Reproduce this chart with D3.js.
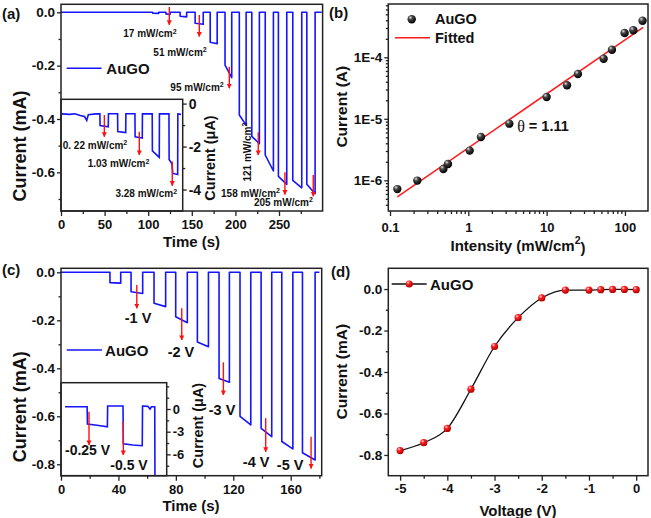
<!DOCTYPE html>
<html><head><meta charset="utf-8">
<script src="https://cdn.jsdelivr.net/npm/d3@7"></script>
<style>
body{margin:0;background:#fff}
svg text{font-family:"Liberation Sans",Arial,sans-serif;font-weight:bold;fill:#111}
</style>
</head><body>
<svg id="c" width="651" height="518"></svg>
<script>
// ---------------- DATA ----------------
// (a) main photocurrent trace, pulses (time s, current mA)
const pulseStartA = [105, 120.3, 136.6, 153.8, 171.1, 188.1, 204.5, 218.8, 234.2, 249.3, 265.8, 281.9];
const pulseEndA   = [112, 125.1, 144.1, 163.1, 179.1, 195.8, 212.3, 227.5, 243.6, 258.9, 276.1, 291.4];
const levelStartA = [-0.003, -0.006, -0.015, -0.041, -0.112, -0.198, -0.385, -0.465, -0.535, -0.615, -0.63, -0.645];
const levelEndA   = [-0.004, -0.008, -0.017, -0.045, -0.118, -0.245, -0.423, -0.493, -0.595, -0.645, -0.658, -0.68];
const endTimeA = 299;
// (a) inset trace (time s, current µA)
const insetTimeA = [0.8,10,16,22,27,29.5,31.3,40,44.6,44.8,54.2,54.4,64.9,65.1,74.2,74.4,84.8,85,93.2,93.4,104.6,104.8,112.7,112.9,123.8,124,127.2,128.2,133.8,134,137.6];
const insetCurA  = [-0.48,-0.5,-0.47,-0.55,-0.6,-0.78,-0.52,-0.48,-0.48,-1.02,-1.08,-0.47,-0.47,-1.3,-1.35,-0.47,-0.47,-1.55,-1.6,-0.48,-0.48,-2.2,-2.5,-0.48,-0.48,-2.6,-2.8,-3.25,-3.3,-0.48,-0.5];
// (a) annotations
const labelTextA = ["17 mW/cm²","51 mW/cm²","95 mW/cm²","158 mW/cm²","205 mW/cm²"];
const labelTimeA = [102, 136.5, 156, 217.3, 255];
const labelCurA  = [-0.079, -0.148, -0.281, -0.676, -0.712];
const rotLabelA = {text:"121 mW/cm²", t:213.3, i:-0.524};
const arrowTimeA = [124.2, 158.6, 193, 226.2, 256.8, 289.3];
const arrowTopA  = [0.02, -0.01, -0.204, -0.45, -0.6, -0.61];
const arrowBotA  = [-0.047, -0.091, -0.285, -0.535, -0.683, -0.69];
const insetLabelTextA = ["0. 22 mW/cm²","1.03 mW/cm²","3.28 mW/cm²"];
const insetLabelTimeA = [39, 66, 97.8];
const insetLabelCurA  = [-1.93, -2.78, -4.18];
const insetArrowTimeA = [49.7, 89.8, 127.6];
const insetArrowTopA  = [-0.53, -1.31, -2.7];
const insetArrowBotA  = [-1.54, -2.39, -3.82];

// (b) intensity dependence
const intensityB = [0.124, 0.223, 0.48, 0.55, 1.04, 1.45, 3.34, 10.0, 18.2, 25.1, 53.4, 68.2, 99, 128, 168];
const currentB   = [7.2e-7, 9.9e-7, 1.53e-6, 1.84e-6, 3.04e-6, 5.07e-6, 8.34e-6, 2.26e-5, 3.51e-5, 5.36e-5, 9.5e-5, 1.33e-4, 2.49e-4, 2.75e-4, 3.94e-4];
const fitIntensityB = [0.124, 171];
const fitCurrentB   = [5.4e-7, 3.08e-4];

// (c) bias-dependent trace (time s, current mA)
const pulseStartC = [34.1, 48.8, 64.8, 79.9, 95.0, 110.1, 124.7, 139.4, 153.8, 168.2];
const pulseEndC   = [41.6, 56.9, 72.9, 88.0, 102.7, 117.3, 132.2, 146.8, 161.5, 177.0];
const levelStartC = [-0.043, -0.081, -0.129, -0.185, -0.29, -0.442, -0.6, -0.65, -0.705, -0.752];
const levelEndC   = [-0.045, -0.088, -0.143, -0.21, -0.31, -0.458, -0.636, -0.685, -0.736, -0.782];
const endTimeC = 180;
const insetTimeC = [2.8,18.2,18.4,25,32.3,32.5,43.2,43.4,50,56.6,56.8,60.5,62,63,65.3,65.5];
const insetCurC  = [0.3,0.3,-2.0,-2.15,-2.35,0.4,0.4,-4.6,-4.75,-4.85,0.4,0.35,0.0,0.3,0.3,-12];
const labelTextC = ["-1 V","-2 V","-3 V","-4 V","-5 V"];
const labelTimeC = [53.7, 83.6, 112.2, 135.9, 159.6];
const labelCurC  = [-0.192, -0.333, -0.574, -0.789, -0.803];
const arrowTimeC = [52.8, 84.1, 113.1, 142.6, 174.2];
const arrowTopC  = [-0.053, -0.15, -0.375, -0.608, -0.685];
const arrowBotC  = [-0.15, -0.282, -0.511, -0.748, -0.817];
const insetLabelTextC = ["-0.25 V","-0.5 V"];
const insetLabelTimeC = [18.5, 47.4];
const insetLabelCurC  = [-5.42, -7.4];
const insetArrowTimeC = [19.5, 43.4];
const insetArrowTopC  = [-0.36, -1.68];
const insetArrowBotC  = [-4.76, -6.08];

// (d) current vs voltage
const voltageD = [-5,-4.5,-4,-3.5,-3,-2.5,-2,-1.5,-1,-0.75,-0.5,-0.25,0];
const currentD = [-0.779,-0.741,-0.672,-0.483,-0.277,-0.138,-0.043,-0.005,-0.005,-0.003,-0.002,-0.002,-0.003];

// tick values
const ticksAx = [0,50,100,150,200,250], minorAx = [25,75,125,175,225,275];
const ticksAy = [0,-0.2,-0.4,-0.6], minorAy = [-0.1,-0.3,-0.5,-0.7];
const ticksAin = [0,-2,-4], minorAin = [-1,-3];
const ticksBx = [0.1,1,10,100], ticksBy = [1e-6,1e-5,1e-4];
const ticksCx = [0,40,80,120,160], minorCx = [20,60,100,140,180];
const ticksCy = [0,-0.2,-0.4,-0.6,-0.8], minorCy = [-0.1,-0.3,-0.5,-0.7];
const ticksCin = [0,-3,-6], minorCin = [3,1.5,-1.5,-4.5,-7.5];
const ticksDx = [-5,-4,-3,-2,-1,0], minorDx = [-4.5,-3.5,-2.5,-1.5,-0.5];
const ticksDy = [0,-0.2,-0.4,-0.6,-0.8], minorDy = [-0.1,-0.3,-0.5,-0.7];

// ---------------- DRAW ----------------
const svg = d3.select("#c");
const defs = svg.append("defs");
defs.append("marker").attr("id","ah").attr("viewBox","0 0 10 10").attr("refX",9).attr("refY",5)
  .attr("markerWidth",3.6).attr("markerHeight",4).attr("orient","auto")
  .append("path").attr("d","M0,0L10,5L0,10z").attr("fill","#ff1010");
const gB = defs.append("radialGradient").attr("id","gBlack").attr("cx","35%").attr("cy","30%").attr("r","70%");
gB.append("stop").attr("offset","0%").attr("stop-color","#e0e0e0");
gB.append("stop").attr("offset","35%").attr("stop-color","#444");
gB.append("stop").attr("offset","100%").attr("stop-color","#000");
const gR = defs.append("radialGradient").attr("id","gRed").attr("cx","35%").attr("cy","30%").attr("r","70%");
gR.append("stop").attr("offset","0%").attr("stop-color","#ffe0e0");
gR.append("stop").attr("offset","35%").attr("stop-color","#ff2020");
gR.append("stop").attr("offset","100%").attr("stop-color","#b00000");

const BLUE = "#1414ff", AXC = "#222";

function box(x, y){
  const [x0,x1] = x.range(), [y0,y1] = y.range();
  svg.append("rect").attr("x",x0).attr("y",y1).attr("width",x1-x0).attr("height",y0-y1)
    .attr("fill","none").attr("stroke",AXC).attr("stroke-width",1.5);
}
function styleAxis(g, fs){
  g.select(".domain").remove();
  g.selectAll("line").attr("stroke",AXC).attr("stroke-width",1.3);
  g.selectAll("text").style("font-size",fs+"px").attr("fill","#111");
}
function bottomAxis(x, yPix, major, minor, fmt, pad, fs){
  const g = svg.append("g").attr("transform",`translate(0,${yPix})`)
    .call(d3.axisBottom(x).tickValues(major).tickFormat(fmt).tickSize(5).tickPadding(pad));
  styleAxis(g, fs);
  if(minor){
    const m = svg.append("g").attr("transform",`translate(0,${yPix})`)
      .call(d3.axisBottom(x).tickValues(minor).tickFormat("").tickSize(3));
    styleAxis(m, fs);
  }
}
function leftAxis(y, xPix, major, minor, fmt, pad, fs){
  const g = svg.append("g").attr("transform",`translate(${xPix},0)`)
    .call(d3.axisLeft(y).tickValues(major).tickFormat(fmt).tickSize(4).tickPadding(pad));
  styleAxis(g, fs);
  if(minor){
    const m = svg.append("g").attr("transform",`translate(${xPix},0)`)
      .call(d3.axisLeft(y).tickValues(minor).tickFormat("").tickSize(2.5));
    styleAxis(m, fs);
  }
}
function rightAxis(y, xPix, major, minor, fmt, pad, fs){
  const g = svg.append("g").attr("transform",`translate(${xPix},0)`)
    .call(d3.axisRight(y).tickValues(major).tickFormat(fmt).tickSize(4).tickPadding(pad));
  styleAxis(g, fs);
  if(minor){
    const m = svg.append("g").attr("transform",`translate(${xPix},0)`)
      .call(d3.axisRight(y).tickValues(minor).tickFormat("").tickSize(2.5));
    styleAxis(m, fs);
  }
}
function yTitle(text, x, y, fs){
  svg.append("text").attr("transform",`translate(${x},${y}) rotate(-90)`).attr("text-anchor","middle")
    .attr("dominant-baseline","central").style("font-size",fs+"px").text(text);
}
function xTitle(sel, x, y, fs){
  return svg.append("text").attr("x",x).attr("y",y).attr("text-anchor","middle")
    .attr("dominant-baseline","central").style("font-size",fs+"px");
}
function pulseTrace(starts, ends, l1, l2, tEnd){
  const pts = [[0,0]];
  starts.forEach((s,i)=>{ pts.push([s,0],[s,l1[i]],[ends[i],l2[i]],[ends[i],0]); });
  pts.push([tEnd,0]);
  return pts;
}
function arrows(x, y, ts, tops, bots){
  ts.forEach((t,i)=>{
    svg.append("line").attr("x1",x(t)).attr("x2",x(t)).attr("y1",y(tops[i])).attr("y2",y(bots[i]))
      .attr("stroke","#ff1010").attr("stroke-width",1.4).attr("marker-end","url(#ah)");
  });
}
function labels(x, y, texts, ts, cs, fs){
  texts.forEach((s,i)=>{
    const t = svg.append("text").attr("x",x(ts[i])).attr("y",y(cs[i])).attr("text-anchor","middle")
      .attr("dominant-baseline","central").style("font-size",fs+"px");
    addSup(t, s);
  });
}
function addSup(t, s){
  if(s.endsWith("²")){
    t.append("tspan").text(s.slice(0,-1));
    t.append("tspan").attr("dy","-0.4em").style("font-size","0.7em").text("2");
  } else t.text(s);
}
function panelLabel(s, x, y){
  svg.append("text").attr("x",x).attr("y",y).style("font-size","15px").text(s);
}

// ===== Panel (a) =====
const xA = d3.scaleLinear([0,300],[61,322.6]);
const yA = d3.scaleLinear([-0.745,0.03],[211,4.3]);
const yAin = d3.scaleLinear([-5,0.2],[211,99.3]);
const lineA = d3.line().x(d=>xA(d[0])).y(d=>yA(d[1]));
svg.append("path").attr("d",lineA(pulseTrace(pulseStartA,pulseEndA,levelStartA,levelEndA,endTimeA)))
  .attr("fill","none").attr("stroke",BLUE).attr("stroke-width",1.6).attr("stroke-linejoin","round");
arrows(xA, yA, arrowTimeA, arrowTopA, arrowBotA);
labels(xA, yA, labelTextA, labelTimeA, labelCurA, 10);
{
  const t = svg.append("text").attr("transform",`translate(${xA(rotLabelA.t)},${yA(rotLabelA.i)}) rotate(-90)`)
    .attr("text-anchor","middle").attr("dominant-baseline","central").style("font-size","10px");
  addSup(t, rotLabelA.text);
}
// legend (a)
svg.append("line").attr("x1",xA(6.5)).attr("x2",xA(46.5)).attr("y1",yA(-0.21)).attr("y2",yA(-0.21))
  .attr("stroke",BLUE).attr("stroke-width",1.6);
svg.append("text").attr("x",xA(52)).attr("y",yA(-0.21)).attr("dominant-baseline","central").style("font-size","15px").text("AuGO");
// inset (a)
svg.append("clipPath").attr("id","clipA").append("rect").attr("x",61).attr("y",99.3).attr("width",182.7-61).attr("height",211-99.3);
svg.append("rect").attr("x",61).attr("y",99.3).attr("width",182.7-61).attr("height",211-99.3)
  .attr("fill","#fff").attr("stroke",AXC).attr("stroke-width",1.5);
svg.append("path").attr("clip-path","url(#clipA)")
  .attr("d",d3.line().x((d,i)=>xA(insetTimeA[i])).y(d=>yAin(d))(insetCurA))
  .attr("fill","none").attr("stroke",BLUE).attr("stroke-width",1.6);
arrows(xA, yAin, insetArrowTimeA, insetArrowTopA, insetArrowBotA);
labels(xA, yAin, insetLabelTextA, insetLabelTimeA, insetLabelCurA, 10);
rightAxis(yAin, 182.7, ticksAin, minorAin, d=>String(d), 2, 14);
yTitle("Current (μA)", 210, 158, 14.5);
box(xA, yA);
bottomAxis(xA, 211, ticksAx, minorAx, d=>String(d), 4, 13);
leftAxis(yA, 61, ticksAy, minorAy, d=>d.toFixed(1), 2, 13.5);
yTitle("Current (mA)", 20, 146, 18);
xTitle(null, 191.5, 241, 15).text("Time (s)");
panelLabel("(a)", 2, 19);

// ===== Panel (b) =====
const xB = d3.scaleLog([0.0951,197],[388.3,648]);
const yB = d3.scaleLog([3.17e-7,7.36e-4],[211,4]);
svg.append("path").attr("d",d3.line().x((d,i)=>xB(fitIntensityB[i])).y(d=>yB(d))(fitCurrentB))
  .attr("fill","none").attr("stroke","#ff1a1a").attr("stroke-width",1.5);
svg.append("g").selectAll("circle").data(currentB).join("circle")
  .attr("cx",(d,i)=>xB(intensityB[i])).attr("cy",d=>yB(d)).attr("r",4.2).attr("fill","url(#gBlack)");
svg.append("circle").attr("cx",411.7).attr("cy",19.3).attr("r",4.2).attr("fill","url(#gBlack)");
svg.append("text").attr("x",435).attr("y",19.3).attr("dominant-baseline","central").style("font-size","14.5px").text("AuGO");
svg.append("line").attr("x1",395).attr("x2",430).attr("y1",37.7).attr("y2",37.7).attr("stroke","#ff1a1a").attr("stroke-width",1.5);
svg.append("text").attr("x",435).attr("y",37.7).attr("dominant-baseline","central").style("font-size","14.5px").text("Fitted");
{
  const t = svg.append("text").attr("x",xB(4.2)).attr("y",yB(7.5e-6)).attr("dominant-baseline","central").style("font-size","14.5px");
  t.append("tspan").style("font-family","'Liberation Serif','Times New Roman',serif").style("font-weight","normal").style("font-size","16px").text("θ");
  t.append("tspan").text(" = 1.11");
}
box(xB, yB);
{
  const minX = [], minY = [];
  [0.1,1,10,100].forEach(p=>{ for(let k=2;k<=9;k++){ const v=p*k; if(v<197) minX.push(v);} });
  [1e-7,1e-6,1e-5,1e-4].forEach(p=>{ for(let k=2;k<=9;k++){ const v=p*k; if(v>3.17e-7 && v<7.36e-4) minY.push(v);} });
  bottomAxis(xB, 211, ticksBx, minX, d=>String(d), 7, 13);
  leftAxis(yB, 388.3, ticksBy, minY, d=>"1E"+Math.round(Math.log10(d)), 2, 13.5);
}
yTitle("Current (A)", 341, 106.7, 15.5);
{
  const t = xTitle(null, 518, 245, 15);
  t.append("tspan").text("Intensity (mW/cm");
  t.append("tspan").attr("dy","-0.45em").style("font-size","0.7em").text("2");
  t.append("tspan").attr("dy","0.45em").text(")");
}
panelLabel("(b)", 329, 18);

// ===== Panel (c) =====
const xC = d3.scaleLinear([0,181.6],[61,321.7]);
const yC = d3.scaleLinear([-0.8475,0.0167],[475.7,268.3]);
const yCin = d3.scaleLinear([-8.82,3.48],[475.7,382.7]);
svg.append("path").attr("d",d3.line().x(d=>xC(d[0])).y(d=>yC(d[1]))(pulseTrace(pulseStartC,pulseEndC,levelStartC,levelEndC,endTimeC)))
  .attr("fill","none").attr("stroke",BLUE).attr("stroke-width",1.6).attr("stroke-linejoin","round");
arrows(xC, yC, arrowTimeC, arrowTopC, arrowBotC);
labels(xC, yC, labelTextC, labelTimeC, labelCurC, 14.5);
svg.append("line").attr("x1",xC(4)).attr("x2",xC(28.5)).attr("y1",yC(-0.324)).attr("y2",yC(-0.324))
  .attr("stroke",BLUE).attr("stroke-width",1.6);
svg.append("text").attr("x",xC(30.7)).attr("y",yC(-0.324)).attr("dominant-baseline","central").style("font-size","15px").text("AuGO");
svg.append("clipPath").attr("id","clipC").append("rect").attr("x",61).attr("y",382.7).attr("width",166.7-61).attr("height",475.7-382.7);
svg.append("rect").attr("x",61).attr("y",382.7).attr("width",166.7-61).attr("height",475.7-382.7)
  .attr("fill","#fff").attr("stroke",AXC).attr("stroke-width",1.5);
svg.append("path").attr("clip-path","url(#clipC)")
  .attr("d",d3.line().x((d,i)=>xC(insetTimeC[i])).y(d=>yCin(d))(insetCurC))
  .attr("fill","none").attr("stroke",BLUE).attr("stroke-width",1.6);
arrows(xC, yCin, insetArrowTimeC, insetArrowTopC, insetArrowBotC);
labels(xC, yCin, insetLabelTextC, insetLabelTimeC, insetLabelCurC, 14);
rightAxis(yCin, 166.7, ticksCin, minorCin, d=>String(d), 2, 13);
yTitle("Current (μA)", 197.5, 425.5, 14.5);
box(xC, yC);
bottomAxis(xC, 475.7, ticksCx, minorCx, d=>String(d), 4, 13);
leftAxis(yC, 61, ticksCy, minorCy, d=>d.toFixed(1), 2, 13.5);
yTitle("Current (mA)", 20, 406.7, 18);
xTitle(null, 191, 505, 15).text("Time (s)");
panelLabel("(c)", 2, 275);

// ===== Panel (d) =====
const xD = d3.scaleLinear([-5.25,0.25],[388.3,648]);
const yD = d3.scaleLinear([-0.9,0.1],[475.7,268.3]);
svg.append("path").attr("d",d3.line().x((d,i)=>xD(voltageD[i])).y(d=>yD(d)).curve(d3.curveMonotoneX)(currentD))
  .attr("fill","none").attr("stroke","#111").attr("stroke-width",1.3);
svg.append("g").selectAll("circle").data(currentD).join("circle")
  .attr("cx",(d,i)=>xD(voltageD[i])).attr("cy",d=>yD(d)).attr("r",3.6).attr("fill","url(#gRed)");
svg.append("line").attr("x1",391.7).attr("x2",426.7).attr("y1",284).attr("y2",284).attr("stroke","#111").attr("stroke-width",1.3);
svg.append("circle").attr("cx",409.2).attr("cy",284).attr("r",3.6).attr("fill","url(#gRed)");
svg.append("text").attr("x",430).attr("y",284).attr("dominant-baseline","central").style("font-size","15px").text("AuGO");
box(xD, yD);
bottomAxis(xD, 475.7, ticksDx, minorDx, d=>String(d), 3, 13);
leftAxis(yD, 388.3, ticksDy, minorDy, d=>d.toFixed(1), 2, 13.5);
yTitle("Current (mA)", 341, 371.7, 15.5);
xTitle(null, 518, 510, 15).text("Voltage (V)");
panelLabel("(d)", 331, 277);
</script>
</body></html>
